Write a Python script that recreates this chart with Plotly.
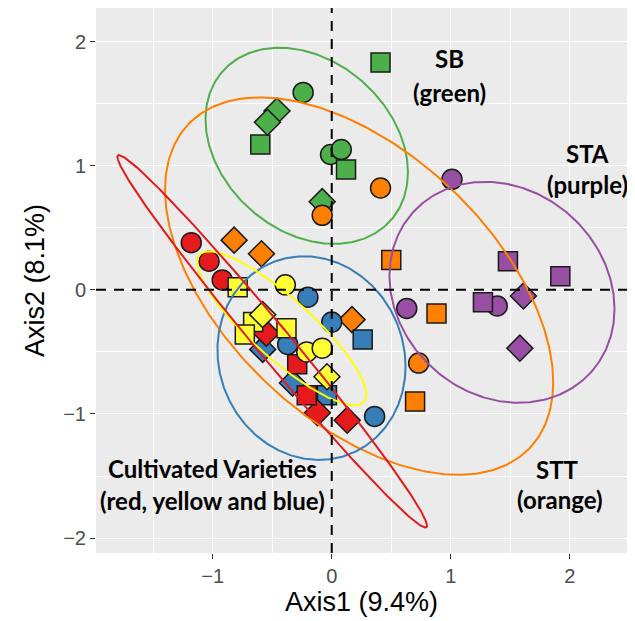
import numpy as np
import plotly.graph_objects as go

# ---------------- data ----------------
groups = ["SB", "STT", "STA", "Blue", "Red", "Yellow"]
colors = {"SB": "#4DAF4A", "STT": "#FF7F00", "STA": "#984EA3",
          "Blue": "#377EB8", "Red": "#E41A1C", "Yellow": "#FFFF33"}

sb_x = [-0.24, -0.01, 0.08, 0.41, -0.60, 0.12, -0.46, -0.54, -0.08]
sb_y = [1.59, 1.09, 1.13, 1.83, 1.17, 0.97, 1.44, 1.35, 0.71]
sb_s = ["circle", "circle", "circle", "square", "square", "square", "diamond", "diamond", "diamond"]

stt_x = [0.41, -0.08, 0.73, 0.50, 0.88, 0.70, -0.82, -0.59, 0.17]
stt_y = [0.82, 0.60, -0.59, 0.24, -0.19, -0.90, 0.40, 0.29, -0.24]
stt_s = ["circle", "circle", "circle", "square", "square", "square", "diamond", "diamond", "diamond"]

sta_x = [1.01, 0.63, 1.39, 1.48, 1.92, 1.27, 1.61, 1.58]
sta_y = [0.89, -0.15, -0.13, 0.23, 0.11, -0.10, -0.05, -0.47]
sta_s = ["circle", "circle", "circle", "square", "square", "square", "diamond", "diamond"]

blue_x = [-0.20, 0.00, -0.37, 0.36, 0.26, -0.04, -0.58, -0.33]
blue_y = [-0.06, -0.26, -0.44, -1.02, -0.40, -0.85, -0.48, -0.75]
blue_s = ["circle", "circle", "circle", "circle", "square", "square", "diamond", "diamond"]

red_x = [-1.18, -1.03, -0.92, -0.55, -0.12, 0.13, -0.29, -0.21]
red_y = [0.38, 0.23, 0.08, -0.35, -0.99, -1.05, -0.60, -0.85]
red_s = ["circle", "circle", "circle", "diamond", "diamond", "diamond", "square", "square"]

yel_x = [-0.79, -0.66, -0.73, -0.38, -0.39, -0.21, -0.08, -0.58, -0.04]
yel_y = [0.02, -0.26, -0.36, -0.31, 0.04, -0.50, -0.47, -0.20, -0.70]
yel_s = ["square", "square", "square", "square", "circle", "circle", "circle", "diamond", "diamond"]

# ellipse parameters: centre x, centre y, x half-extent, y half-extent, correlation
ell_group = ["SB", "STT", "STA", "Blue", "Yellow", "Red"]
ell_cx = [-0.21, 0.23, 1.43, -0.17, -0.42, -0.50]
ell_cy = [1.16, 0.03, -0.02, -0.55, -0.31, -0.415]
ell_rx = [0.85, 1.63, 0.945, 0.79, 0.71, 1.30]
ell_ry = [0.79, 1.52, 0.89, 0.82, 0.62, 1.50]
ell_rho = [-0.27, -0.51, -0.15, -0.08, -0.86, -0.99]

x_ticks = [-1, 0, 1, 2]
y_ticks = [-2, -1, 0, 1, 2]

# ---------------- figure ----------------
fig = go.Figure()

point_sets = [("SB", sb_x, sb_y, sb_s), ("STT", stt_x, stt_y, stt_s),
              ("STA", sta_x, sta_y, sta_s), ("Blue", blue_x, blue_y, blue_s),
              ("Red", red_x, red_y, red_s), ("Yellow", yel_x, yel_y, yel_s)]
size_map = {"circle": 20, "square": 19, "diamond": 20}
for g, xs, ys, ss in point_sets:
    fig.add_trace(go.Scatter(
        x=xs, y=ys, mode="markers",
        marker=dict(symbol=ss, size=[size_map[s] for s in ss], color=colors[g], opacity=1,
                    line=dict(color="#1a1a1a", width=1.5)),
        showlegend=False, hoverinfo="skip"))

t = np.linspace(0, 2 * np.pi, 361)
for g, cx, cy, rx, ry, rho in zip(ell_group, ell_cx, ell_cy, ell_rx, ell_ry, ell_rho):
    ex = cx + rx * np.cos(t)
    ey = cy + ry * (rho * np.cos(t) + np.sqrt(1 - rho ** 2) * np.sin(t))
    fig.add_trace(go.Scatter(x=ex, y=ey, mode="lines",
                             line=dict(color=colors[g] if g != "Yellow" else "#FFFF00", width=2),
                             showlegend=False, hoverinfo="skip"))

# dashed reference lines
fig.add_shape(type="line", xref="x", yref="paper", x0=0, x1=0, y0=0, y1=1,
              line=dict(color="black", width=2, dash="10px,8px"), layer="above")
fig.add_shape(type="line", xref="paper", yref="y", x0=0, x1=1, y0=0, y1=0,
              line=dict(color="black", width=2, dash="10px,8px"), layer="above")

labels = [("SB", 0.99, 1.86), ("(green)", 0.99, 1.59),
          ("STA", 2.15, 1.10), ("(purple)", 2.15, 0.85),
          ("Cultivated Varieties", -1.0, -1.44), ("(red, yellow and blue)", -1.0, -1.70),
          ("STT", 1.90, -1.45), ("(orange)", 1.92, -1.69)]
for txt, x, y in labels:
    fig.add_annotation(x=x, y=y, text="<b>" + txt + "</b>", showarrow=False,
                       font=dict(family="Lato", size=24, color="black"))

axis_common = dict(showgrid=True, gridcolor="white", gridwidth=1.3, zeroline=False,
                   ticks="outside", ticklen=5, tickwidth=1.2, tickcolor="#333333",
                   tickfont=dict(family="Liberation Sans", size=20, color="#4D4D4D"),
                   showline=False, automargin=False)
fig.update_xaxes(range=[-1.98, 2.48], tickvals=x_ticks, ticktext=["−1", "0", "1", "2"],
                 minor=dict(tickvals=[-1.5, -0.5, 0.5, 1.5], showgrid=True,
                            gridcolor="white", gridwidth=0.6, ticks=""),
                 title=dict(text="Axis1 (9.4%)", font=dict(family="Liberation Sans", size=27, color="black"),
                            standoff=4),
                 **axis_common)
fig.update_yaxes(range=[-2.12, 2.27], tickvals=y_ticks, ticktext=["−2", "−1", "0", "1", "2"],
                 minor=dict(tickvals=[-1.5, -0.5, 0.5, 1.5], showgrid=True,
                            gridcolor="white", gridwidth=0.6, ticks=""),
                 title=dict(text="Axis2 (8.1%)", font=dict(family="Liberation Sans", size=27, color="black"),
                            standoff=10),
                 **axis_common)

# the page body adds an 8px offset, so the figure is sized/margined to compensate
fig.update_layout(width=627, height=613, margin=dict(l=88, r=8, t=0, b=68),
                  plot_bgcolor="#EBEBEB", paper_bgcolor="white")

fig.write_html("out.html")
